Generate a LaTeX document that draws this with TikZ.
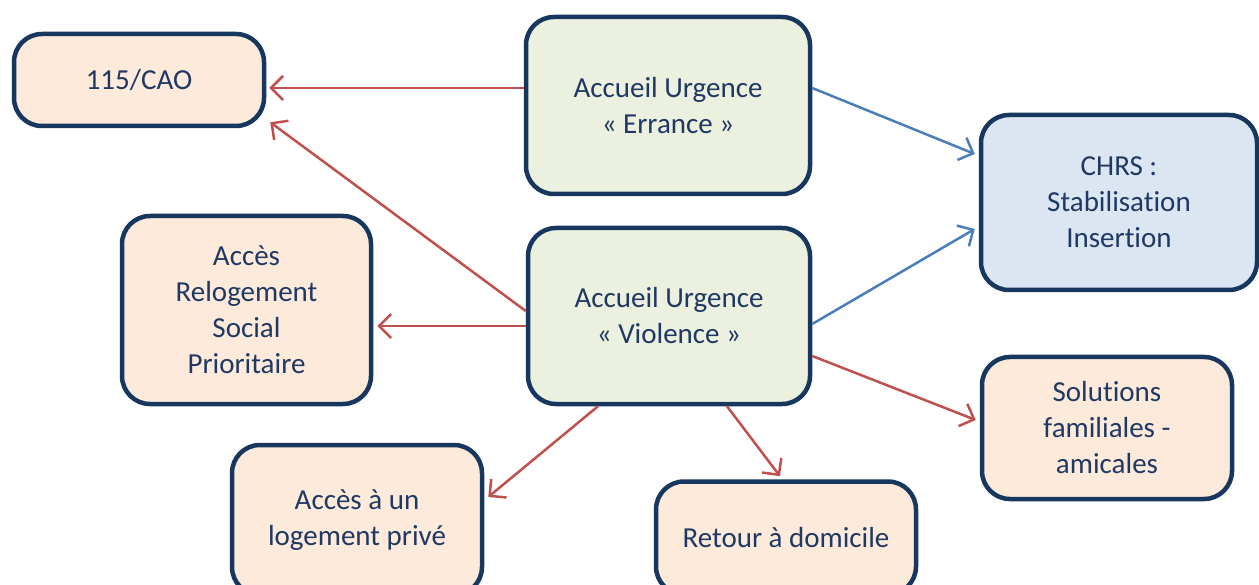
\documentclass[tikz,border=0pt]{standalone}
\usepackage{fontspec}
\setmainfont{Carlito}[RawFeature={-liga}]
\usetikzlibrary{arrows.meta}
\definecolor{navy}{HTML}{17375E}
\definecolor{txt}{HTML}{1F3864}
\definecolor{peach}{HTML}{FDEADA}
\definecolor{sage}{HTML}{EBF1DE}
\definecolor{sky}{HTML}{DCE6F2}
\definecolor{redline}{HTML}{C0504D}
\definecolor{blueline}{HTML}{4A7EBB}
\tikzset{
  box/.style={draw=navy, line width=4.5pt, rounded corners=28pt, rectangle,
    align=center, text=txt, font=\fontsize{29}{36}\selectfont, inner sep=0pt},
  peachbox/.style={box, fill=peach},
  sagebox/.style={box, fill=sage},
  skybox/.style={box, fill=sky},
  link/.style={line width=2.5pt, -{Straight Barb[length=12pt,width=24pt,line width=2.5pt]}},
  redlink/.style={link, draw=redline},
  bluelink/.style={link, draw=blueline},
}
\begin{document}
\begin{tikzpicture}[x=1pt,y=-1pt]
\useasboundingbox (0,0) rectangle (1259,585);
\clip (0,0) rectangle (1259,585);
\fill[white] (0,0) rectangle (1259,585);

\node[peachbox, minimum width=250pt, minimum height=92pt] (cao) at (139,80) {115/CAO};
\node[sagebox, minimum width=284pt, minimum height=177pt] (err) at (668,105.5) {Accueil Urgence\\« Errance »};
\node[skybox, minimum width=276pt, minimum height=175pt] (chrs) at (1119,202.5) {CHRS :\\Stabilisation\\Insertion};
\node[peachbox, minimum width=249pt, minimum height=188pt] (arsp) at (246.5,310) {Accès\\Relogement\\Social\\Prioritaire};
\node[sagebox, minimum width=282pt, minimum height=176pt] (vio) at (669,316) {Accueil Urgence\\« Violence »};
\node[peachbox, minimum width=250pt, minimum height=142pt] (sol) at (1107,428) {Solutions\\familiales -\\amicales};
\node[peachbox, minimum width=250pt, minimum height=150pt] (priv) at (357,520) {Accès à un\\logement privé};
\node[peachbox, minimum width=260pt, minimum height=113pt] (ret) at (786,538) {Retour à domicile};

\draw[redlink] ([yshift=17.5pt]err.west) -- ([xshift=3pt,yshift=-8pt]cao.east);
\draw[redlink] ([yshift=5pt]vio.west) -- ([xshift=4pt,yshift=6pt]cao.south east);
\draw[redlink] ([yshift=-10pt]vio.west) -- ([xshift=4pt,yshift=-16pt]arsp.east);
\draw[redlink] ([xshift=-71pt]vio.south) -- ([xshift=4pt,yshift=23pt]priv.east);
\draw[redlink] ([xshift=58pt]vio.south) -- ([xshift=-6pt,yshift=3pt]ret.north);
\draw[redlink] ([yshift=-40pt]vio.east) -- ([xshift=-4pt,yshift=8pt]sol.west);
\draw[bluelink] ([yshift=17.5pt]err.east) -- ([xshift=-4pt,yshift=48.5pt]chrs.west);
\draw[bluelink] ([yshift=-8pt]vio.east) -- ([xshift=-4pt,yshift=-26.5pt]chrs.west);
\end{tikzpicture}
\end{document}
